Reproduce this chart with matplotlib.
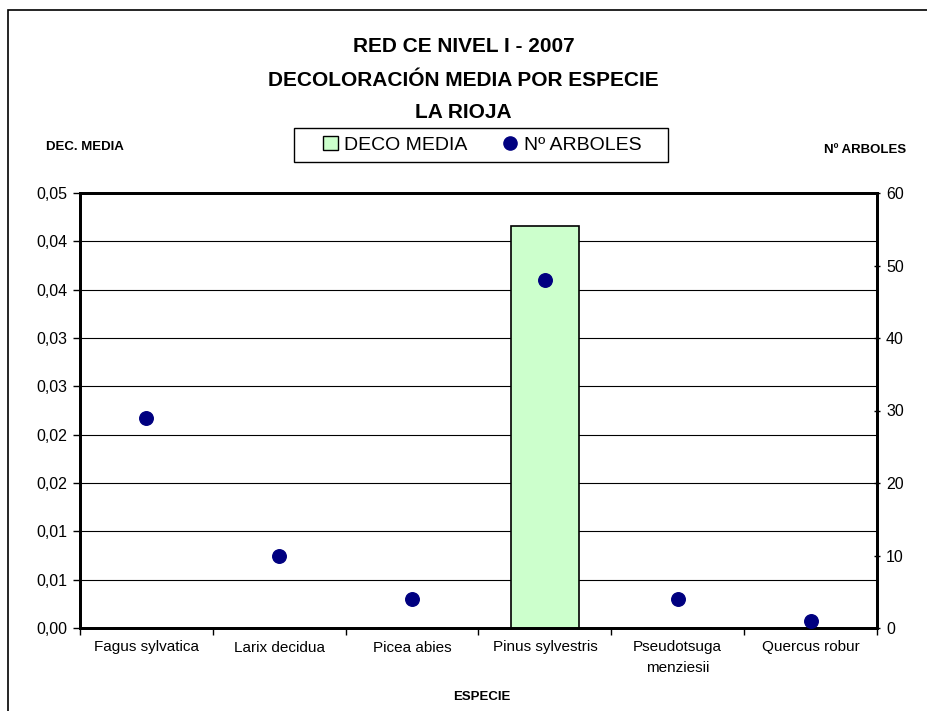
import matplotlib.pyplot as plt
import numpy as np
from matplotlib.patches import Rectangle
from matplotlib.lines import Line2D

plt.rcParams['font.family'] = ['Liberation Sans', 'DejaVu Sans']

especies = ["Fagus sylvatica", "Larix decidua", "Picea abies", "Pinus sylvestris",
            "Pseudotsuga\nmenziesii", "Quercus robur"]
deco_media = [0.0, 0.0, 0.0, 0.0416, 0.0, 0.0]
n_arboles = [29, 10, 4, 48, 4, 1]

# Excel axis: step 0.005, max 0.045, labels rounded to 2 decimals
left_ticks = np.arange(0, 0.0451, 0.005)
left_labels = ["0,00", "0,01", "0,01", "0,02", "0,02", "0,03", "0,03", "0,04", "0,04", "0,05"]
right_ticks = np.arange(0, 61, 10)

fig = plt.figure(figsize=(9.27, 7.11), dpi=100)
ax = fig.add_axes([80 / 927, 1 - 628 / 711, 797 / 927, 435 / 711])
ax2 = ax.twinx()

x = np.arange(len(especies))
ax.bar(x, deco_media, width=0.51, color="#ccffcc", edgecolor="black", linewidth=1.2, zorder=3)
ax.set_xlim(-0.5, len(especies) - 0.5)
ax.set_ylim(0, 0.045)
ax.set_yticks(left_ticks)
ax.set_yticklabels(left_labels, fontsize=11.5)
ax.yaxis.grid(True, color="black", linewidth=0.8)
ax.set_axisbelow(True)
ax.set_xticks(x)
ax.set_xticklabels(especies, fontsize=11, linespacing=1.55)
ax.set_xticks(np.arange(-0.5, len(especies)), minor=True)
ax.tick_params(axis="x", which="major", length=0, pad=9)
ax.tick_params(axis="x", which="minor", length=5, direction="out", width=1)
ax.tick_params(axis="y", length=5, direction="out", width=1, pad=4)

ax2.scatter(x, n_arboles, s=95, color="#000080", zorder=4)
ax2.set_ylim(0, 60)
ax2.set_yticks(right_ticks)
ax2.set_yticklabels([str(v) for v in right_ticks], fontsize=11.5)
ax2.tick_params(axis="y", length=5, direction="inout", width=1, pad=4)

for a in (ax, ax2):
    for sp in a.spines.values():
        sp.set_linewidth(2)

# outer frame
fig.patches.append(Rectangle((8 / 927, -0.01), 1.0, 1 - 10 / 711 + 0.01, transform=fig.transFigure,
                             fill=False, edgecolor="black", linewidth=1.2))

for yy, line in zip([46, 80, 113], ["RED CE NIVEL I - 2007", "DECOLORACIÓN MEDIA POR ESPECIE", "LA RIOJA"]):
    fig.text(0.5, 1 - yy / 711, line, ha="center", va="center", fontsize=15, fontweight="bold")

fig.text(85 / 927, 1 - 147 / 711, "DEC. MEDIA", ha="center", va="center",
         fontsize=9.5, fontweight="bold")
fig.text(865 / 927, 1 - 150 / 711, "Nº ARBOLES", ha="center", va="center",
         fontsize=9.5, fontweight="bold")
fig.text(482 / 927, 1 - 697 / 711, "ESPECIE", ha="center", va="center",
         fontsize=9.5, fontweight="bold")

# legend box (frame drawn separately to match the wide padding)
fig.patches.append(Rectangle((294 / 927, 1 - 162 / 711), 374 / 927, 34 / 711,
                             transform=fig.transFigure, fill=True, facecolor="white",
                             edgecolor="black", linewidth=1, zorder=1))
handles = [Rectangle((0, 0), 1, 1, facecolor="#ccffcc", edgecolor="black"),
           Line2D([], [], marker="o", linestyle="", color="#000080", markersize=9.5)]
leg = fig.legend(handles, ["DECO MEDIA", "Nº ARBOLES"], ncol=2, loc="center",
                 bbox_to_anchor=(482 / 927, 1 - 145 / 711), fontsize=14, frameon=False,
                 handlelength=0.8, handletextpad=0.3, columnspacing=1.8, borderpad=0.3)
leg.set_zorder(5)

fig.savefig("out.png", dpi=100)
